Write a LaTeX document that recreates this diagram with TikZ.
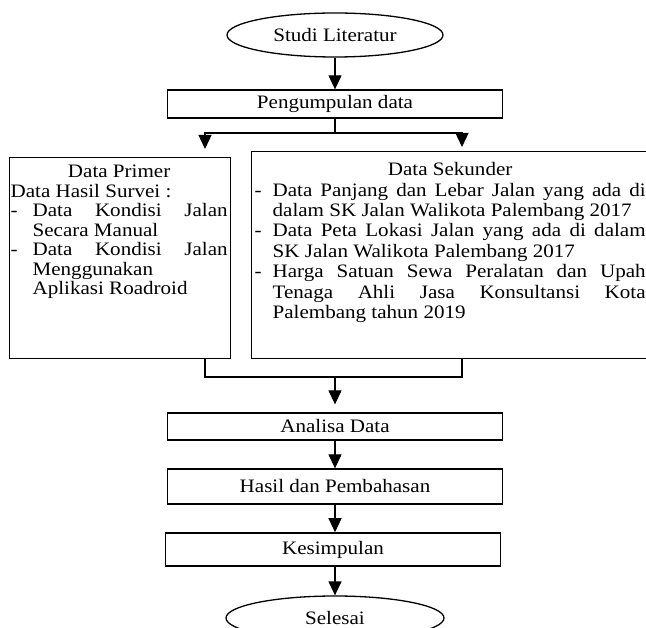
\documentclass[tikz,border=0pt]{standalone}
\usepackage{fontspec}
\setmainfont{Liberation Serif}[FakeStretch=1.108]
\usetikzlibrary{shapes.geometric, arrows.meta, positioning, calc}
\newcommand{\butir}[2]{\hangindent=#1\hangafter=1\noindent\makebox[#1][l]{-}#2\par}
\newcommand{\judul}[1]{{\centering\rule{0pt}{14pt}#1\par}}

\begin{document}
\begin{tikzpicture}[x=1pt, y=-1pt, line width=1.3pt,
  font=\fontsize{19}{20}\selectfont,
  terminal/.style={draw, ellipse, minimum width=216pt, minimum height=44pt, inner sep=0pt},
  proses/.style={draw, rectangle, minimum width=335pt, inner sep=0pt},
  isi/.style={anchor=north west, inner sep=0pt, align=justify},
  panah/.style={-{Triangle[width=13pt,length=14pt]}}]
  \useasboundingbox (0,0) rectangle (646,628);
  \clip (0,0) rectangle (646,628);

  % Alur atas
  \node[terminal] (studi) at (335,35) {Studi Literatur};
  \node[proses, minimum height=28pt] (kumpul) at (335,104) {Pengumpulan data};

  % Kotak data
  \node[draw, minimum width=221pt, minimum height=201pt, anchor=north west] (primer) at (9,157) {};
  \node[draw, minimum width=430pt, minimum height=207pt, anchor=north west] (sekunder) at (251,151) {};

  \node[isi, text width=217pt, font=\fontsize{19}{19.5}\selectfont] (primertxt) at (10,163) {%
    \judul{Data Primer}
    \noindent Data Hasil Survei :\par
    \butir{22pt}{Data Kondisi Jalan\linebreak Secara Manual}
    \butir{22pt}{Data Kondisi Jalan\linebreak Menggunakan\newline Aplikasi Roadroid}};

  \node[isi, text width=391pt, font=\fontsize{19}{20.4}\selectfont] (sekundertxt) at (254,161) {%
    \judul{Data Sekunder}
    \butir{18pt}{Data Panjang dan Lebar Jalan yang ada di\linebreak dalam SK Jalan Walikota Palembang 2017}
    \butir{18pt}{Data Peta Lokasi Jalan yang ada di dalam\linebreak SK Jalan Walikota Palembang 2017}
    \butir{18pt}{Harga Satuan Sewa Peralatan dan Upah\linebreak Tenaga Ahli Jasa Konsultansi Kota\linebreak Palembang tahun 2019}};

  % Alur bawah
  \node[proses, minimum height=27pt] (analisa) at (335,426.5) {Analisa Data};
  \node[proses, minimum height=35pt] (hasil) at (335,486.5) {Hasil dan Pembahasan};
  \node[proses, minimum height=33pt, line width=1.6pt] (simpul) at (333,549.5) {Kesimpulan};
  \node[terminal, minimum width=218pt] (selesai) at (335,618) {Selesai};

  % Percabangan
  \coordinate (kiri) at (205,133);
  \coordinate (kanan) at (462,133);
  \coordinate (gabung) at (335,377);

  \draw[panah] (studi) -- (kumpul);
  \draw[panah, shorten >=8pt] (kumpul.south) |- (kiri) -- (kiri |- primer.north);
  \draw[panah, shorten >=4pt] (kumpul.south) |- (kanan) -- (kanan |- sekunder.north);
  \draw (primer.south -| kiri) -- (kiri |- gabung) -- (kanan |- gabung) -- (sekunder.south -| kanan);
  \draw[panah, shorten >=8pt] (gabung) -- (analisa);
  \draw[panah] (analisa) -- (hasil);
  \draw[panah] (hasil) -- (hasil |- simpul.north);
  \draw[panah] (hasil |- simpul.south) -- (selesai);
\end{tikzpicture}
\end{document}
